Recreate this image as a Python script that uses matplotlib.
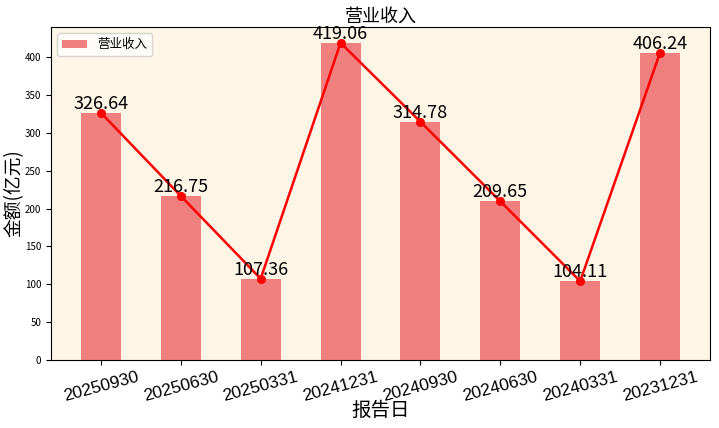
import matplotlib
matplotlib.use("Agg")
import matplotlib.pyplot as plt
import numpy as np

plt.rcParams['font.family'] = ['Noto Sans CJK SC', 'DejaVu Sans']
plt.rcParams['axes.unicode_minus'] = False

dates = ["20250930", "20250630", "20250331", "20241231", "20240930", "20240630", "20240331", "20231231"]
revenue = [326.64, 216.75, 107.36, 419.06, 314.78, 209.65, 104.11, 406.24]

fig = plt.figure(figsize=(7.19, 4.28), dpi=100)
ax = fig.add_axes([51/719, 1-360/428, 659/719, 333/428])
x = np.arange(len(dates))
ax.bar(x, revenue, width=0.5, color='lightcoral', label='营业收入')
ax.plot(x, revenue, color='red', marker='o', markersize=5.5, linewidth=1.8)
for xi, v in zip(x, revenue):
    ax.text(xi, v, f"{v:.2f}", ha='center', va='bottom', fontsize=13)
ax.set_ylim(0, 440)
ax.set_facecolor('#fdf5e6')
ax.set_xticks(x)
ax.set_xticklabels(dates, rotation=15, fontsize=12.5, family=['Liberation Sans', 'DejaVu Sans'])
ax.tick_params(axis='y', labelsize=7)
ax.set_title('营业收入', fontsize=13, pad=4)
ax.set_xlabel('报告日', fontsize=14)
ax.xaxis.set_label_coords(0.5, -0.12)
ax.set_ylabel('金额(亿元)', fontsize=13.5)
ax.yaxis.set_label_coords(-0.04, 0.5)
ax.legend(loc='upper left', fontsize=9)
fig.savefig('out.png', dpi=100)
